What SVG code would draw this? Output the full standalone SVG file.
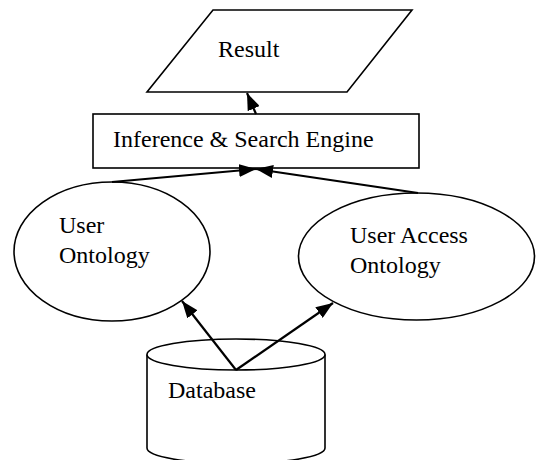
<svg xmlns="http://www.w3.org/2000/svg" width="536" height="460" viewBox="0 0 536 460">
<style>
.shape{fill:#fff;stroke:#000;stroke-width:1.6}
.lbl{font-family:"Liberation Serif","Times New Roman",serif;font-size:24px;fill:#000}
.conn{stroke:#000;stroke-width:2.2;fill:none;marker-end:url(#ah)}
</style>
<defs>
<marker id="ah" viewBox="0 0 17 13" refX="17" refY="6.5" markerWidth="17" markerHeight="13" markerUnits="userSpaceOnUse" orient="auto">
<path d="M0,0 L17,6.5 L0,13 z" fill="#000"/>
</marker>
</defs>
<rect width="536" height="460" fill="#fff"/>
<g id="result">
<polygon class="shape" points="213,10 412,10 347,92 147,92"/>
<text class="lbl" x="218" y="57">Result</text>
</g>
<g id="engine">
<rect class="shape" x="93" y="114" width="326" height="54"/>
<text class="lbl" x="113" y="147">Inference &amp; Search Engine</text>
</g>
<g id="user-ontology">
<ellipse class="shape" cx="112" cy="251.5" rx="98" ry="69.5"/>
<text class="lbl" x="59" y="233">User</text>
<text class="lbl" x="59" y="263">Ontology</text>
</g>
<g id="user-access-ontology">
<ellipse class="shape" cx="416.5" cy="256.5" rx="118" ry="63.5"/>
<text class="lbl" x="350" y="243">User Access</text>
<text class="lbl" x="350" y="273">Ontology</text>
</g>
<g id="database">
<path class="shape" d="M147,354.5 L147,448 A89,15.5 0 0 0 325,448 L325,354.5"/>
<ellipse class="shape" cx="236" cy="354.5" rx="89" ry="15.5"/>
<text class="lbl" x="168" y="398">Database</text>
</g>
<g id="connectors">
<line class="conn" x1="256" y1="114" x2="247" y2="93"/>
<line class="conn" x1="112" y1="182" x2="256" y2="169"/>
<line class="conn" x1="418" y1="193" x2="256" y2="169"/>
<line class="conn" x1="236" y1="370" x2="182" y2="301"/>
<line class="conn" x1="236" y1="370" x2="333" y2="303"/>
</g>
</svg>
